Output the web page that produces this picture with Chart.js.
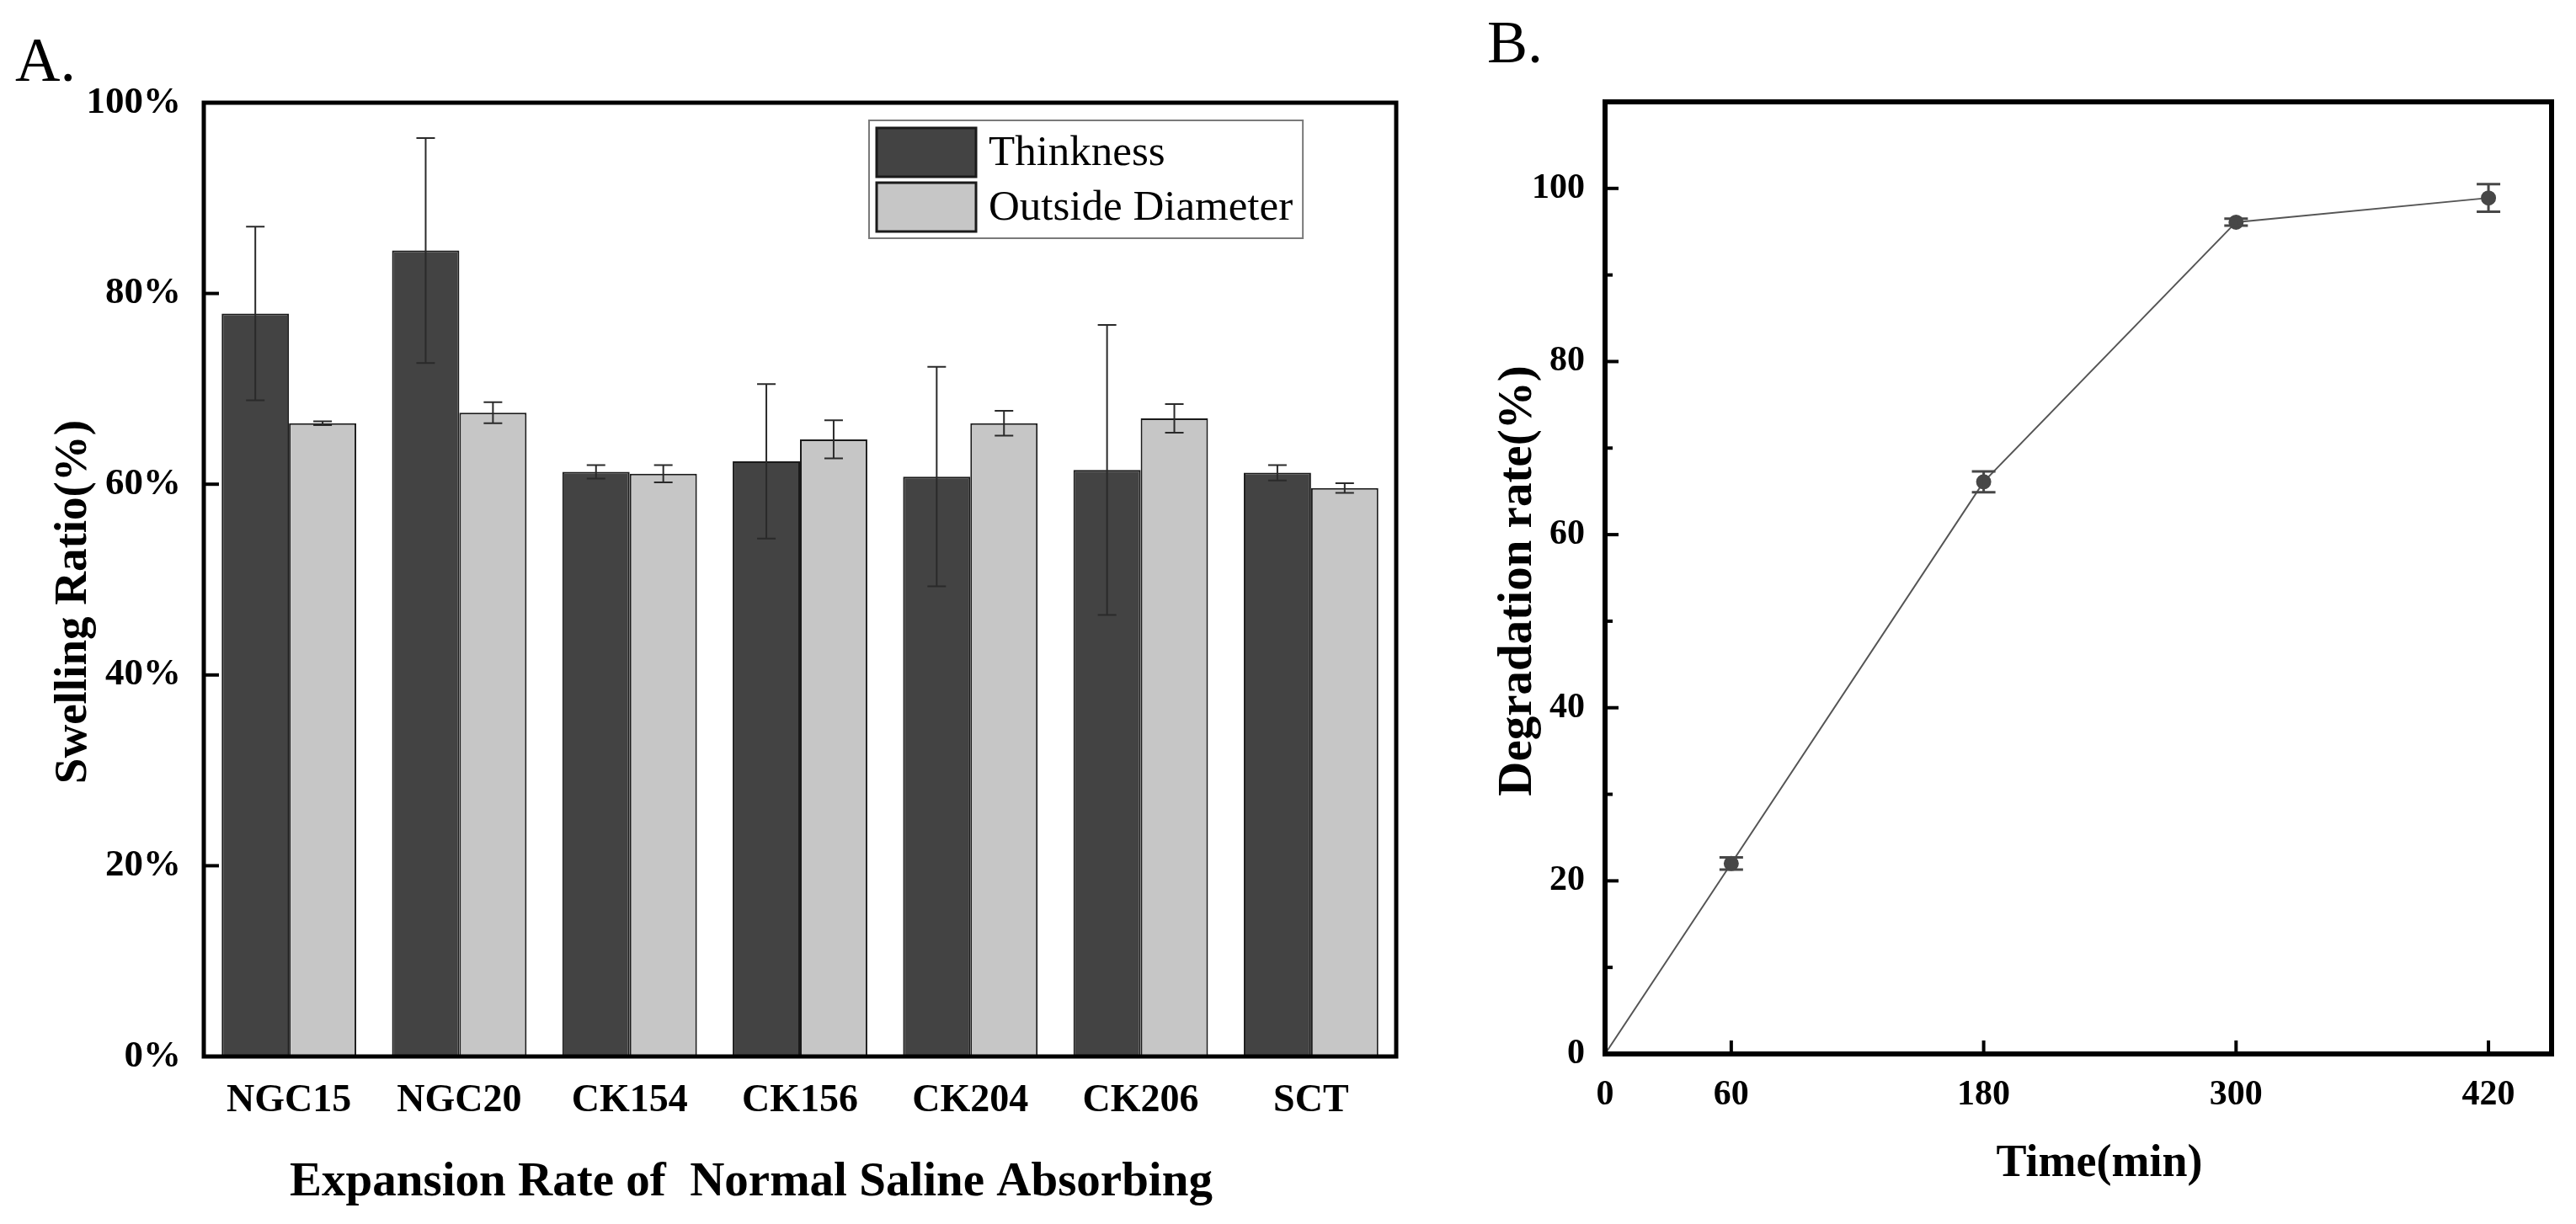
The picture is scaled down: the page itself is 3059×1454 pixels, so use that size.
<!DOCTYPE html>
<html>
<head>
<meta charset="utf-8">
<script src="https://cdn.jsdelivr.net/npm/chart.js@4.4.1/dist/chart.umd.min.js"></script>
<style>
  html, body { margin: 0; padding: 0; background: #fff; }
  #page { position: relative; width: 3059px; height: 1454px; overflow: hidden; background: #fff; }
  .panel { position: absolute; top: 0; height: 1454px; }
  #panelA { left: 0; width: 1720px; }
  #panelB { left: 1720px; width: 1339px; }
</style>
</head>
<body>
<div id="page">
  <div class="panel" id="panelA"><canvas id="swellChart"></canvas></div>
  <div class="panel" id="panelB"><canvas id="degradChart"></canvas></div>
</div>
<script>
// --- données panneau A
const categories = ['NGC15', 'NGC20', 'CK154', 'CK156', 'CK204', 'CK206', 'SCT'];
const thickness = [77.9, 84.5, 61.3, 62.4, 60.8, 61.5, 61.2];
const thicknessErr = [9.1, 11.8, 0.7, 8.1, 11.5, 15.2, 0.8];
const diameter = [66.4, 67.5, 61.1, 64.7, 66.4, 66.9, 59.6];
const diameterErr = [0.2, 1.1, 0.9, 2.0, 1.3, 1.5, 0.5];
const swellTicks = [0, 20, 40, 60, 80, 100];

// --- données panneau B
const timeMin = [0, 60, 180, 300, 420];
const degradation = [0, 22.0, 66.1, 96.1, 98.9];
const degradationErr = [0, 0.7, 1.2, 0.4, 1.6];
const timeTicks = [0, 60, 180, 300, 420];

const SERIF = "'Liberation Serif', 'Times New Roman', serif";
Chart.defaults.font.family = SERIF;
Chart.defaults.color = '#000';
Chart.defaults.animation = false;

// barres d'erreur
const errorBars = {
  id: 'errorBars',
  afterDatasetsDraw(chart, args, opts) {
    const ctx = chart.ctx;
    const y = chart.scales.y;
    ctx.save();
    ctx.strokeStyle = opts.color;
    ctx.lineWidth = opts.width;
    chart.data.datasets.forEach((ds, i) => {
      if (!ds.errors) return;
      chart.getDatasetMeta(i).data.forEach((el, j) => {
        const e = ds.errors[j];
        if (!e) return;
        const v = typeof ds.data[j] === 'object' ? ds.data[j].y : ds.data[j];
        const top = y.getPixelForValue(v + e);
        const bot = y.getPixelForValue(v - e);
        const x = el.x;
        ctx.beginPath();
        ctx.moveTo(x, top); ctx.lineTo(x, bot);
        ctx.moveTo(x - opts.cap, top); ctx.lineTo(x + opts.cap, top);
        ctx.moveTo(x - opts.cap, bot); ctx.lineTo(x + opts.cap, bot);
        ctx.stroke();
      });
    });
    ctx.restore();
  }
};

// cadre et graduations vers l'intérieur
const frameTicks = {
  id: 'frameTicks',
  afterDatasetsDraw(chart, args, opts) {
    const {ctx, chartArea: a} = chart;
    const x = chart.scales.x, y = chart.scales.y;
    ctx.save();
    ctx.strokeStyle = '#000';
    ctx.lineWidth = opts.tickWidth;
    y.ticks.forEach(t => {
      if (t.value <= y.min || t.value >= y.max) return;
      const len = t.value % opts.yMajor === 0 ? opts.majorLen : opts.minorLen;
      const py = y.getPixelForValue(t.value);
      ctx.beginPath(); ctx.moveTo(a.left, py); ctx.lineTo(a.left + len, py); ctx.stroke();
    });
    if (opts.xTicks) {
      x.ticks.forEach(t => {
        if (t.value <= x.min || t.value >= x.max) return;
        const px = x.getPixelForValue(t.value);
        ctx.beginPath(); ctx.moveTo(px, a.bottom); ctx.lineTo(px, a.bottom - opts.majorLen); ctx.stroke();
      });
    }
    ctx.lineWidth = opts.frameWidth;
    ctx.strokeRect(a.left, a.top, a.right - a.left, a.bottom - a.top);
    ctx.restore();
  }
};

// légende encadrée (panneau A)
const boxLegend = {
  id: 'boxLegend',
  afterDraw(chart, args, o) {
    if (!o.show) return;
    const {ctx, chartArea: a} = chart;
    const x0 = a.left + o.dx, y0 = a.top + o.dy;
    ctx.save();
    ctx.font = o.size + 'px ' + SERIF;
    const tw = Math.max(...chart.data.datasets.map(d => ctx.measureText(d.label).width));
    const w = 9 + o.boxW + 15 + tw + 12;
    const h = 9 + 2 * o.boxH + 7 + 8;
    ctx.fillStyle = '#fff';
    ctx.fillRect(x0, y0, w, h);
    ctx.strokeStyle = '#7a7a7a';
    ctx.lineWidth = 2;
    ctx.strokeRect(x0, y0, w, h);
    chart.data.datasets.forEach((d, i) => {
      const by = y0 + 9 + i * (o.boxH + 7);
      ctx.fillStyle = d.backgroundColor;
      ctx.fillRect(x0 + 9, by, o.boxW, o.boxH);
      ctx.strokeStyle = '#1a1a1a';
      ctx.lineWidth = 3;
      ctx.strokeRect(x0 + 9, by, o.boxW, o.boxH);
      ctx.fillStyle = '#000';
      ctx.textBaseline = 'middle';
      ctx.fillText(d.label, x0 + 9 + o.boxW + 15, by + o.boxH / 2 + 2);
    });
    ctx.restore();
  }
};

// textes : lettre du panneau, titres d'axes
const panelText = {
  id: 'panelText',
  afterDraw(chart, args, o) {
    const ctx = chart.ctx;
    ctx.save();
    ctx.fillStyle = '#000';
    ctx.textBaseline = 'alphabetic';
    ctx.textAlign = 'left';
    ctx.font = o.letterSize + 'px ' + SERIF;
    ctx.fillText(o.letter, o.letterX, o.letterY);
    ctx.textAlign = 'center';
    ctx.font = 'bold ' + o.xTitleSize + 'px ' + SERIF;
    ctx.fillText(o.xTitle, o.xTitleX, o.xTitleY);
    ctx.translate(o.yTitleX, o.yTitleY);
    ctx.rotate(-Math.PI / 2);
    ctx.textBaseline = 'middle';
    ctx.font = 'bold ' + o.yTitleSize + 'px ' + SERIF;
    ctx.fillText(o.yTitle, 0, 0);
    ctx.restore();
  }
};

// Chart A : taux de gonflement
new Chart(document.getElementById('swellChart'), {
  type: 'bar',
  data: {
    labels: categories,
    datasets: [
      {
        label: 'Thinkness',
        data: thickness,
        errors: thicknessErr,
        backgroundColor: '#434343',
        borderColor: '#1a1a1a',
        borderWidth: 2,
        categoryPercentage: 0.79,
        barPercentage: 1.0
      },
      {
        label: 'Outside Diameter',
        data: diameter,
        errors: diameterErr,
        backgroundColor: '#c6c6c6',
        borderColor: '#1a1a1a',
        borderWidth: 2,
        categoryPercentage: 0.79,
        barPercentage: 1.0
      }
    ]
  },
  options: {
    responsive: true,
    maintainAspectRatio: false,
    layout: { padding: { top: 122, right: 62, left: 0, bottom: 0 } },
    scales: {
      x: {
        grid: { display: false, drawTicks: false },
        border: { display: false },
        ticks: { font: { size: 46, weight: 'bold' }, padding: 26, color: '#000' },
        afterFit: (s) => { s.height = 199; }
      },
      y: {
        min: 0,
        max: 100,
        grid: { display: false, drawTicks: false },
        border: { display: false },
        afterBuildTicks: (s) => { s.ticks = swellTicks.map(v => ({ value: v })); },
        ticks: { font: { size: 45, weight: 'bold' }, padding: 27, color: '#000', callback: v => v + '%' },
        afterFit: (s) => { s.width = 242; }
      }
    },
    plugins: {
      legend: { display: false },
      tooltip: { enabled: false },
      errorBars: { color: '#2a2a2a', width: 2, cap: 11 },
      frameTicks: { tickWidth: 4, frameWidth: 5, majorLen: 18, minorLen: 18, yMajor: 20, xTicks: false },
      boxLegend: { show: true, dx: 790, dy: 21, size: 51, boxW: 118, boxH: 58 },
      panelText: {
        letter: 'A.', letterX: 18, letterY: 96, letterSize: 74,
        xTitle: 'Expansion Rate of  Normal Saline Absorbing', xTitleX: 892, xTitleY: 1420, xTitleSize: 57,
        yTitle: 'Swelling Ratio(%)', yTitleX: 88, yTitleY: 715, yTitleSize: 55
      }
    }
  },
  plugins: [errorBars, frameTicks, boxLegend, panelText]
});

// Chart B : taux de dégradation
new Chart(document.getElementById('degradChart'), {
  type: 'line',
  data: {
    datasets: [{
      label: 'Degradation rate',
      data: timeMin.map((t, i) => ({ x: t, y: degradation[i] })),
      errors: degradationErr,
      borderColor: '#555555',
      borderWidth: 2,
      pointRadius: degradation.map((v, i) => i === 0 ? 0 : 8),
      pointBackgroundColor: '#474747',
      pointBorderColor: '#474747',
      tension: 0,
      fill: false
    }]
  },
  options: {
    responsive: true,
    maintainAspectRatio: false,
    layout: { padding: { top: 121, right: 29, left: 0, bottom: 0 } },
    scales: {
      x: {
        type: 'linear',
        min: 0,
        max: 450,
        grid: { display: false, drawTicks: false },
        border: { display: false },
        afterBuildTicks: (s) => { s.ticks = timeTicks.map(v => ({ value: v })); },
        ticks: { font: { size: 42, weight: 'bold' }, padding: 24, color: '#000' },
        afterFit: (s) => { s.height = 202; }
      },
      y: {
        min: 0,
        max: 110,
        grid: { display: false, drawTicks: false },
        border: { display: false },
        ticks: {
          stepSize: 10,
          font: { size: 42, weight: 'bold' },
          padding: 24,
          color: '#000',
          callback: v => (v % 20 === 0 && v <= 100) ? v : ''
        },
        afterFit: (s) => { s.width = 186; }
      }
    },
    plugins: {
      legend: { display: false },
      tooltip: { enabled: false },
      errorBars: { color: '#474747', width: 3, cap: 14 },
      frameTicks: { tickWidth: 4, frameWidth: 6, majorLen: 16, minorLen: 9, yMajor: 20, xTicks: true },
      boxLegend: { show: false },
      panelText: {
        letter: 'B.', letterX: 46, letterY: 74, letterSize: 72,
        xTitle: 'Time(min)', xTitleX: 773, xTitleY: 1397, xTitleSize: 54,
        yTitle: 'Degradation rate(%)', yTitleX: 83, yTitleY: 690, yTitleSize: 57
      }
    }
  },
  plugins: [errorBars, frameTicks, boxLegend, panelText]
});
</script>
</body>
</html>
